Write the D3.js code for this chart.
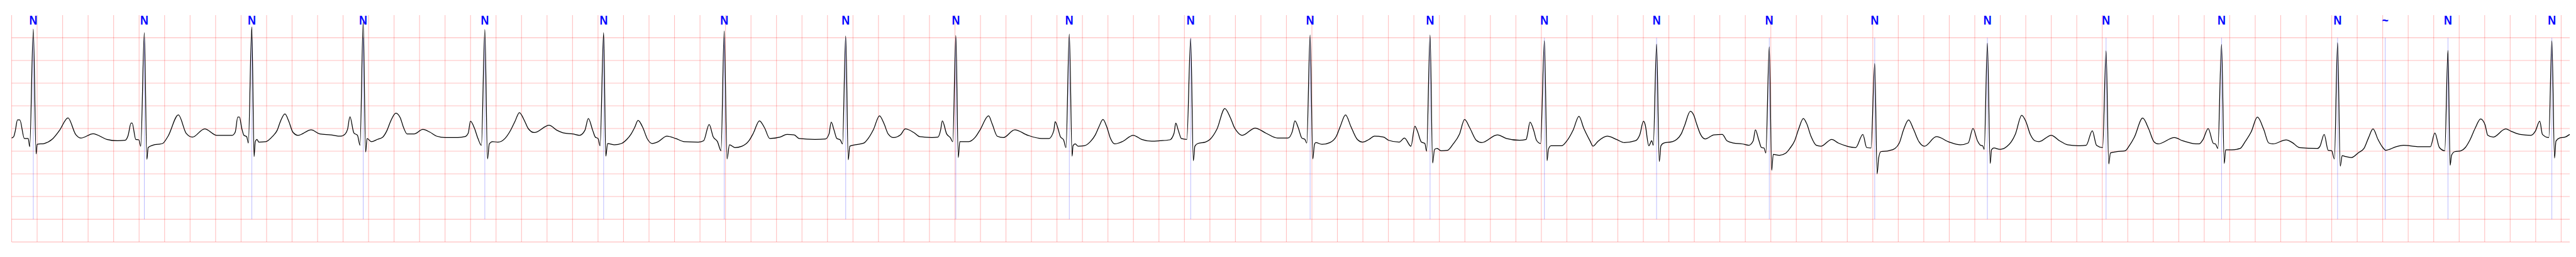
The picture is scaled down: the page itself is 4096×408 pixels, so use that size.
<!DOCTYPE html>
<html>
<head>
<meta charset="utf-8">
<script src="https://cdn.jsdelivr.net/npm/d3@7"></script>
<style>
  html, body { margin: 0; padding: 0; background: #ffffff; }
  svg { display: block; }
</style>
</head>
<body>
<svg id="chart" width="4096" height="408"></svg>
<script>
// ---- data (time in seconds, amplitude in mV) ----
const annotationTimes = [0.170, 1.041, 1.884, 2.758, 3.712, 4.644, 5.590, 6.543, 7.407, 8.297, 9.249,
  10.186, 11.127, 12.024, 12.904, 13.788, 14.615, 15.499, 16.430, 17.336, 18.246, 18.620, 19.112, 19.927];
const annotationSymbols = ["N","N","N","N","N","N","N","N","N","N","N",
  "N","N","N","N","N","N","N","N","N","N","~","N","N"];

const ecgSamples = [
[0,-0.21],[0.016,-0.18],[0.028,-0.06],[0.046,0.19],[0.064,0.19],[0.100,-0.22],[0.130,-0.22],[0.142,-0.40],[0.170,2.19],[0.192,-0.56],[0.200,-0.35],[0.256,-0.33],[0.317,-0.24],[0.376,-0.04],[0.442,0.235],[0.502,-0.13],[0.544,-0.21],[0.639,-0.115],[0.747,-0.24],[0.831,-0.27],[0.891,-0.26],[0.913,-0.16],[0.937,0.12],[0.945,0.12],[0.974,-0.24],[0.998,-0.25],[1.013,-0.39],[1.041,2.11],[1.061,-0.68],[1.071,-0.42],[1.106,-0.37],[1.184,-0.33],[1.227,-0.17],[1.308,0.30],[1.370,-0.11],[1.418,-0.19],[1.514,-0.007],[1.610,-0.15],[1.730,-0.15],
[1.754,-0.08],[1.774,0.25],[1.787,0.25],[1.805,0.01],[1.822,-0.15],[1.844,-0.18],[1.857,-0.32],[1.884,2.24],[1.902,-0.62],[1.911,-0.29],[1.925,-0.24],[1.939,-0.30],[1.994,-0.29],[2.048,-0.17],[2.083,-0.04],[2.109,0.16],[2.144,0.32],[2.174,0.16],[2.206,-0.08],[2.246,-0.15],[2.350,-0.03],[2.418,-0.12],[2.501,-0.14],[2.582,-0.17],[2.617,-0.12],[2.635,-0.02],[2.654,0.26],[2.685,-0.10],[2.713,-0.15],[2.733,-0.37],[2.758,2.35],[2.777,-0.52],[2.788,-0.22],[2.822,-0.29],[2.870,-0.24],[2.911,-0.19],[2.945,-0.04],[2.973,0.16],[3.014,0.34],[3.048,0.24],[3.076,0.01],[3.102,-0.12],[3.158,-0.12],[3.226,-0.02],[3.281,-0.08],[3.336,-0.17],[3.403,-0.20],[3.500,-0.20],[3.555,-0.18],[3.582,-0.10],[3.599,0.16],[3.630,0.01],[3.658,-0.22],[3.685,-0.37],[3.712,2.18],[3.733,-0.67],[3.747,-0.34],[3.773,-0.29],[3.815,-0.30],[3.870,-0.22],
[3.908,-0.07],[3.949,0.16],[3.983,0.35],[4.025,0.16],[4.052,0],[4.100,-0.09],[4.216,0.07],[4.278,-0.04],[4.332,-0.10],[4.402,-0.12],[4.455,-0.15],[4.497,-0.04],[4.524,0.22],[4.558,-0.04],[4.579,-0.19],[4.600,-0.22],[4.616,-0.38],[4.644,2.11],[4.661,-0.61],[4.675,-0.33],[4.729,-0.36],[4.784,-0.33],[4.826,-0.24],[4.860,-0.12],[4.887,0.02],[4.914,0.18],[4.949,0.035],[4.989,-0.24],[5.024,-0.33],[5.072,-0.29],[5.140,-0.17],[5.209,-0.22],[5.276,-0.29],[5.386,-0.30],[5.428,-0.27],[5.472,0.09],[5.503,-0.18],[5.537,-0.29],[5.565,-0.49],[5.590,2.15],[5.612,-0.67],[5.631,-0.36],[5.674,-0.42],[5.729,-0.39],[5.784,-0.27],[5.819,-0.10],[5.866,0.17],[5.907,0.01],[5.947,-0.22],[6.028,-0.19],
[6.082,-0.13],[6.138,-0.14],[6.178,-0.22],[6.302,-0.24],[6.384,-0.23],[6.412,-0.12],[6.429,0.14],[6.452,-0.04],[6.473,-0.22],[6.500,-0.25],[6.518,-0.34],[6.543,2.04],[6.563,-0.69],[6.575,-0.39],[6.616,-0.36],[6.685,-0.32],[6.719,-0.22],[6.761,-0.02],[6.808,0.28],[6.843,0.11],[6.876,-0.12],[6.918,-0.20],[6.973,-0.14],[7.010,-0.01],[7.083,-0.10],[7.123,-0.18],[7.219,-0.20],[7.267,-0.19],[7.287,-0.04],[7.301,0.17],[7.335,-0.12],[7.363,-0.20],[7.383,-0.29],[7.407,2.05],[7.426,-0.64],[7.438,-0.29],[7.507,-0.29],[7.560,-0.19],[7.595,-0.04],[7.664,0.28],[7.692,0.10],[7.732,-0.17],[7.780,-0.20],[7.869,-0.03],[7.972,-0.15],[8.081,-0.22],[8.137,-0.22],[8.175,-0.05],
[8.186,0.15],[8.208,0],[8.227,-0.18],[8.252,-0.25],[8.271,-0.42],[8.297,2.08],[8.319,-0.61],[8.326,-0.38],[8.343,-0.34],[8.367,-0.39],[8.414,-0.38],[8.462,-0.29],[8.501,-0.14],[8.529,0.035],[8.561,0.20],[8.591,0.035],[8.620,-0.22],[8.654,-0.34],[8.712,-0.29],[8.798,-0.15],[8.865,-0.24],[8.942,-0.28],[9.009,-0.27],[9.085,-0.25],[9.119,-0.10],[9.132,0.12],[9.152,-0.04],[9.176,-0.22],[9.219,-0.24],[9.249,1.98],[9.270,-0.71],[9.282,-0.39],[9.306,-0.33],[9.364,-0.30],[9.401,-0.24],[9.455,-0.015],[9.517,0.44],[9.560,0.24],[9.594,0.01],
[9.611,-0.06],[9.653,-0.15],[9.755,0.01],[9.838,-0.10],[9.930,-0.21],[10.012,-0.21],[10.047,-0.06],[10.067,0.17],[10.094,0.01],[10.121,-0.21],[10.145,-0.24],[10.160,-0.32],[10.186,2.06],[10.207,-0.67],[10.220,-0.35],[10.231,-0.31],[10.279,-0.35],[10.341,-0.31],[10.392,-0.17],[10.423,0.05],[10.464,0.30],[10.505,0.05],[10.556,-0.24],[10.597,-0.30],[10.649,-0.24],[10.690,-0.17],[10.762,-0.19],[10.802,-0.26],[10.885,-0.30],[10.926,-0.21],[10.977,-0.39],[11.008,0.05],[11.028,-0.06],[11.059,-0.30],[11.086,-0.33],[11.100,-0.50],[11.127,2.06],[11.147,-0.76],[11.162,-0.46],[11.182,-0.44],[11.213,-0.49],[11.264,-0.48],[11.306,-0.35],[11.357,-0.13],[11.398,0.20],[11.439,0.01],[11.490,-0.26],[11.532,-0.31],[11.655,-0.14],[11.726,-0.22],[11.829,-0.26],[11.881,-0.24],[11.891,-0.13],[11.911,0.14],[11.942,-0.06],[11.962,-0.26],[11.994,-0.33],[12.024,1.93],[12.045,-0.71],[12.055,-0.46],[12.076,-0.38],[12.158,-0.38],[12.198,-0.28],[12.250,-0.03],[12.295,0.27],[12.332,0.01],[12.383,-0.28],[12.405,-0.39],[12.445,-0.28],[12.517,-0.17],[12.589,-0.24],[12.651,-0.31],
[12.738,-0.27],[12.772,-0.14],[12.801,0.16],[12.814,0.09],[12.843,-0.38],[12.866,-0.27],[12.878,-0.37],[12.904,1.86],[12.925,-0.73],[12.938,-0.38],[12.960,-0.32],[13.028,-0.29],[13.062,-0.24],[13.097,-0.12],[13.123,0.06],[13.169,0.38],[13.196,0.29],[13.217,0.11],[13.247,-0.12],[13.285,-0.23],[13.354,-0.14],[13.419,-0.13],[13.456,-0.27],[13.508,-0.32],[13.576,-0.34],[13.627,-0.37],[13.662,-0.27],[13.679,-0.03],[13.704,-0.24],[13.727,-0.42],[13.747,-0.43],[13.761,-0.54],[13.788,1.80],[13.807,-0.92],[13.819,-0.57],[13.867,-0.59],[13.918,-0.54],[13.949,-0.44],[13.987,-0.27],[14.018,-0.015],[14.055,0.22],[14.081,0.11],[14.115,-0.17],[14.157,-0.37],[14.192,-0.39],[14.278,-0.24],[14.329,-0.32],[14.398,-0.39],[14.466,-0.42],[14.522,-0.13],[14.552,-0.42],[14.586,-0.43],[14.615,1.43],[14.634,-1.0],[14.646,-0.65],[14.663,-0.51],[14.724,-0.49],[14.774,-0.44],[14.808,-0.32],[14.843,-0.015],[14.881,0.19],[14.919,-0.015],[14.962,-0.29],[15.005,-0.39],[15.099,-0.18],[15.201,-0.30],[15.287,-0.36],[15.348,-0.32],[15.386,0.0],[15.421,-0.27],
[15.446,-0.37],[15.462,-0.38],[15.474,-0.46],[15.499,1.88],[15.521,-0.77],[15.531,-0.47],[15.550,-0.43],[15.599,-0.46],[15.655,-0.39],[15.687,-0.29],[15.719,-0.12],[15.768,0.29],[15.800,0.16],[15.837,-0.14],[15.872,-0.27],[15.904,-0.29],[16.000,-0.15],[16.065,-0.27],[16.129,-0.36],[16.226,-0.38],[16.274,-0.37],[16.322,-0.05],[16.355,-0.37],[16.403,-0.42],[16.430,1.71],[16.451,-0.78],[16.464,-0.54],[16.516,-0.51],[16.580,-0.49],[16.612,-0.38],[16.652,-0.19],[16.717,0.23],[16.765,-0.015],[16.805,-0.29],[16.837,-0.34],[16.966,-0.20],[17.030,-0.27],[17.111,-0.33],[17.159,-0.34],[17.191,-0.24],[17.231,0.0],[17.272,-0.33],[17.288,-0.34],[17.307,-0.44],[17.336,1.85],[17.357,-0.77],[17.368,-0.47],[17.416,-0.47],[17.481,-0.44],[17.521,-0.29],[17.569,-0.07],[17.617,0.25],[17.666,-0.015],[17.706,-0.32],[17.738,-0.34],[17.843,-0.25],[17.891,-0.31],
[17.947,-0.42],[18.088,-0.44],[18.108,-0.39],[18.141,-0.13],[18.172,-0.48],[18.200,-0.49],[18.221,-0.67],[18.246,1.89],[18.267,-0.83],[18.282,-0.60],[18.313,-0.62],[18.355,-0.64],[18.411,-0.53],[18.453,-0.44],[18.488,-0.21],[18.524,-0.01],[18.563,-0.24],[18.601,-0.42],[18.623,-0.48],[18.706,-0.40],[18.763,-0.37],[18.875,-0.40],[18.974,-0.40],[19.009,-0.10],[19.045,-0.42],[19.087,-0.49],[19.112,1.72],[19.129,-0.81],[19.140,-0.59],[19.165,-0.51],[19.214,-0.49],[19.248,-0.42],[19.283,-0.26],[19.326,0.01],[19.368,0.21],[19.403,0.08],[19.424,-0.15],[19.466,-0.19],[19.565,-0.01],[19.607,-0.06],[19.678,-0.13],[19.762,-0.15],[19.797,-0.06],[19.832,0.16],[19.853,-0.13],[19.903,-0.20],[19.927,1.93],[19.948,-0.65],[19.959,-0.28],[19.987,-0.21],[20.030,-0.19],[20.067,-0.13]
];

const timeDomain = [0, 20.067];
const mvDomain = [-2.5, 2.5];
const gridSecondsStep = 0.2;
const gridMvStep = 0.5;
const annotationLineSpan = [-2.0, 2.0];

// ---- layout ----
const svg = d3.select("#chart");
const x = d3.scaleLinear().domain(timeDomain).range([18.5, 4086]);
const y = d3.scaleLinear().domain(mvDomain).range([384.1, 23.9]);

const vTicks = d3.range(0, 101).map(i => +(i * gridSecondsStep).toFixed(3));
const hTicks = d3.range(0, 10).map(i => mvDomain[0] + i * gridMvStep);

const grid = svg.append("g").attr("class", "grid");
grid.selectAll("line.v").data(vTicks).join("line")
  .attr("class", "v")
  .attr("x1", d => x(d)).attr("x2", d => x(d))
  .attr("y1", y(mvDomain[1])).attr("y2", y(mvDomain[0]))
  .attr("stroke", "#ff0000").attr("stroke-opacity", 0.25).attr("stroke-width", 1.1);
grid.selectAll("line.h").data(hTicks).join("line")
  .attr("class", "h")
  .attr("x1", x(timeDomain[0])).attr("x2", x(timeDomain[1]))
  .attr("y1", d => y(d)).attr("y2", d => y(d))
  .attr("stroke", "#ff0000").attr("stroke-opacity", 0.25).attr("stroke-width", 1.1);

// annotation lines
const ann = annotationTimes.map((t, i) => ({ t, s: annotationSymbols[i] }));
svg.append("g").selectAll("line").data(ann).join("line")
  .attr("x1", d => x(d.t)).attr("x2", d => x(d.t))
  .attr("y1", y(annotationLineSpan[1])).attr("y2", y(annotationLineSpan[0]))
  .attr("stroke", "#0000ff").attr("stroke-opacity", 0.45).attr("stroke-width", 0.6);

// ECG trace
const line = d3.line()
  .x(d => x(d[0]))
  .y(d => y(d[1]))
  .curve(d3.curveMonotoneX);
svg.append("path")
  .datum(ecgSamples)
  .attr("d", line)
  .attr("fill", "none")
  .attr("stroke", "#000000")
  .attr("stroke-width", 1.25)
  .attr("stroke-linejoin", "round");

// labels
svg.append("g").selectAll("text").data(ann).join("text")
  .attr("transform", d => `translate(${x(d.t)},38.9) scale(0.87,1)`)
  .attr("text-anchor", "middle")
  .attr("font-family", "'Liberation Sans', Arial, sans-serif")
  .attr("font-weight", "bold")
  .attr("font-size", 20.5)
  .attr("fill", "#0000ff")
  .text(d => d.s);
</script>
</body>
</html>
